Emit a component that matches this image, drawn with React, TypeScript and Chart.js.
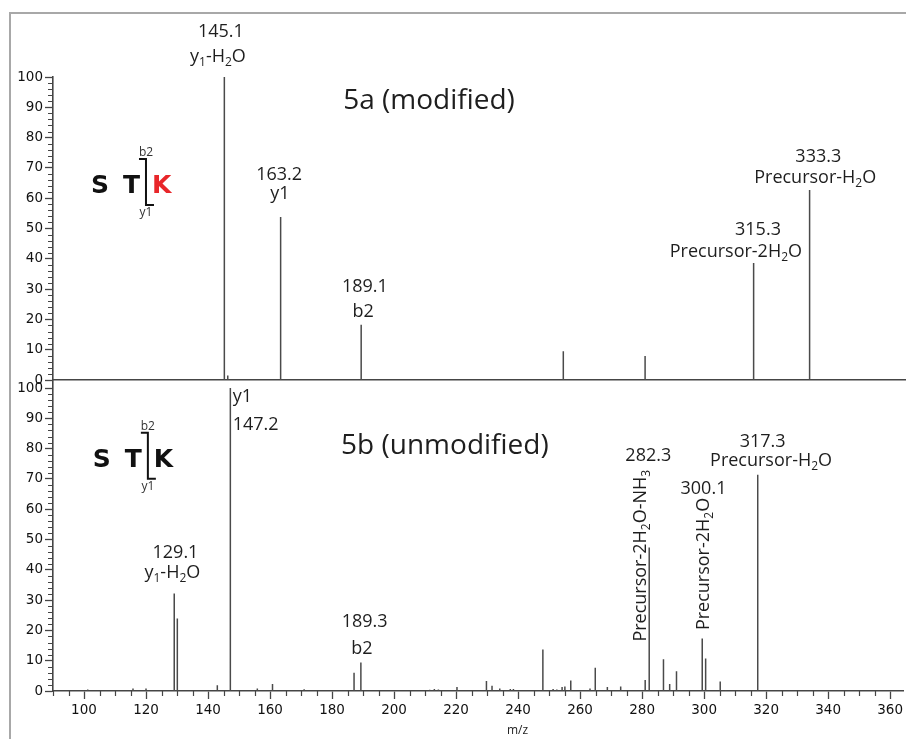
import React, { useEffect, useRef } from "react";
import { Chart, registerables } from "chart.js";
Chart.register(...registerables);

const W = 906;
const H = 739;

// axis ranges and tick labels
const X_MIN = 90;
const X_MAX = 364.3;
const X_TICKS = [100, 120, 140, 160, 180, 200, 220, 240, 260, 280, 300, 320, 340, 360];
const X_MINOR_STEP = 5;
const Y_TICKS = [0, 10, 20, 30, 40, 50, 60, 70, 80, 90, 100];
const Y_MINOR_STEP = 2;

// 5a (modified) spectrum
const TOP_MZ = [145.1, 146.2, 163.2, 189.1, 254.1, 280.4, 315.3, 333.3];
const TOP_INT = [100, 1.5, 53.8, 18.2, 9.5, 7.9, 38.6, 62.7];

// 5b (unmodified) spectrum
const BOT_MZ = [101.2, 115.8, 120.0, 129.1, 130.1, 143.0, 147.2, 155.9, 160.8, 171.0, 187.1, 189.3, 211.5, 213.0, 214.3, 220.3, 229.8, 231.6, 234.1, 237.5, 238.5, 248.0, 251.3, 252.5, 254.2, 255.1, 257.0, 263.2, 264.9, 268.8, 273.1, 281.0, 282.3, 286.9, 288.9, 291.1, 299.4, 300.5, 305.2, 307.0, 317.3];
const BOT_INT = [0.5, 0.8, 0.8, 32.2, 23.9, 1.9, 100, 0.8, 2.3, 0.6, 6.0, 9.4, 0.4, 0.7, 0.5, 1.3, 3.3, 1.7, 0.8, 0.7, 0.7, 13.7, 0.7, 0.5, 1.3, 1.5, 3.5, 0.8, 7.7, 1.3, 1.5, 3.6, 47.4, 10.5, 2.3, 6.5, 17.3, 10.7, 3.1, 0.3, 71.4];

type Label = { x: number; y: number; text: string; align?: "center" | "left"; rotate?: boolean };

// peak annotations (x in m/z, y in intensity units; "_c" = subscript c)
const TOP_LABELS: Label[] = [
  { x: 144.0, y: 113.1, text: "145.1" },
  { x: 143.05, y: 105.0, text: "y_1-H_2O" },
  { x: 162.7, y: 66.0, text: "163.2" },
  { x: 163.0, y: 59.9, text: "y1" },
  { x: 190.3, y: 29.1, text: "189.1" },
  { x: 189.7, y: 20.9, text: "b2" },
  { x: 316.7, y: 47.9, text: "315.3" },
  { x: 309.6, y: 40.6, text: "Precursor-2H_2O" },
  { x: 336.1, y: 72.0, text: "333.3" },
  { x: 335.1, y: 65.0, text: "Precursor-H_2O" },
];
const BOT_LABELS: Label[] = [
  { x: 147.97, y: 95.4, text: "y1", align: "left" },
  { x: 147.97, y: 86.2, text: "147.2", align: "left" },
  { x: 129.5, y: 43.8, text: "129.1" },
  { x: 128.5, y: 37.3, text: "y_1-H_2O" },
  { x: 190.5, y: 21.2, text: "189.3" },
  { x: 189.6, y: 12.2, text: "b2" },
  { x: 282.0, y: 76.0, text: "282.3" },
  { x: 281.3, y: 16.3, text: "Precursor-2H_2O-NH_3", rotate: true },
  { x: 299.8, y: 65.0, text: "300.1" },
  { x: 301.6, y: 20.1, text: "Precursor-2H_2O", rotate: true },
  { x: 318.9, y: 80.7, text: "317.3" },
  { x: 321.6, y: 74.3, text: "Precursor-H_2O" },
];

const TOP_TITLE = { x: 210.9, y: 89.3, text: "5a (modified)" };
const BOT_TITLE = { x: 216.4, y: 78.2, text: "5b (unmodified)" };
const TOP_STK = { x: 119.9, y: 64.7, kColor: "#e8262a" };
const BOT_STK = { x: 120.6, y: 77.0, kColor: "#111111" };
const X_TITLE = { x: 239.8, y: -13.2, text: "m/z" };

const AX = "#454545";
const PEAK = "#4a4a4a";
const TXT = "#1e1e1e";
const LABEL_FONT = '"Open Sans"';
const LABEL_SIZE = 18;

function stems(mz: number[], inten: number[]) {
  const pts: any[] = [];
  mz.forEach((m, i) => {
    pts.push({ x: m, y: 0 }, { x: m, y: inten[i] }, { x: m, y: null });
  });
  return pts;
}

function parseRich(s: string) {
  const parts: { t: string; sub: boolean }[] = [];
  for (let i = 0; i < s.length; i++) {
    if (s[i] === "_" && i + 1 < s.length) {
      parts.push({ t: s[i + 1], sub: true });
      i++;
    } else {
      const last = parts[parts.length - 1];
      if (last && !last.sub) last.t += s[i];
      else parts.push({ t: s[i], sub: false });
    }
  }
  return parts;
}

function drawRich(ctx: CanvasRenderingContext2D, s: string, x: number, y: number, size: number, align: string) {
  const parts = parseRich(s);
  const fMain = `${size}px ${LABEL_FONT}`;
  const fSub = `${Math.round(size * 0.68)}px ${LABEL_FONT}`;
  const widths = parts.map((p) => {
    ctx.font = p.sub ? fSub : fMain;
    return ctx.measureText(p.t).width;
  });
  const total = widths.reduce((a, b) => a + b, 0);
  let cx = align === "center" ? x - total / 2 : x;
  ctx.textAlign = "left";
  ctx.textBaseline = "alphabetic";
  parts.forEach((p, i) => {
    ctx.font = p.sub ? fSub : fMain;
    ctx.fillText(p.t, cx, p.sub ? y + size * 0.22 : y);
    cx += widths[i];
  });
}

function drawLabels(chart: any, labels: Label[]) {
  const { ctx } = chart;
  const xs = chart.scales.x;
  const ys = chart.scales.y;
  ctx.save();
  ctx.fillStyle = TXT;
  labels.forEach((l) => {
    const px = xs.getPixelForValue(l.x);
    const py = ys.getPixelForValue(l.y);
    if (l.rotate) {
      ctx.save();
      ctx.translate(px, py);
      ctx.rotate(-Math.PI / 2);
      drawRich(ctx, l.text, 0, 0, LABEL_SIZE, "left");
      ctx.restore();
    } else {
      drawRich(ctx, l.text, px, py, LABEL_SIZE, l.align || "center");
    }
  });
  ctx.restore();
}

function drawTitle(chart: any, t: { x: number; y: number; text: string }) {
  const { ctx } = chart;
  ctx.save();
  ctx.fillStyle = TXT;
  ctx.font = `28px ${LABEL_FONT}`;
  ctx.textAlign = "center";
  ctx.textBaseline = "alphabetic";
  ctx.fillText(t.text, chart.scales.x.getPixelForValue(t.x), chart.scales.y.getPixelForValue(t.y));
  ctx.restore();
}

function drawSTK(chart: any, s: { x: number; y: number; kColor: string }) {
  const { ctx } = chart;
  const bx = chart.scales.x.getPixelForValue(s.x);
  const cy = chart.scales.y.getPixelForValue(s.y);
  ctx.save();
  ctx.font = 'bold 25px "DejaVu Sans"';
  ctx.textAlign = "left";
  ctx.textBaseline = "alphabetic";
  ctx.fillStyle = "#111";
  ctx.fillText("S", bx - 55, cy + 9);
  ctx.fillText("T", bx - 23, cy + 9);
  ctx.fillStyle = s.kColor;
  ctx.fillText("K", bx + 6, cy + 9);
  ctx.strokeStyle = "#111";
  ctx.lineWidth = 2;
  ctx.beginPath();
  ctx.moveTo(bx - 7, cy - 25);
  ctx.lineTo(bx, cy - 25);
  ctx.lineTo(bx, cy + 21);
  ctx.lineTo(bx + 8, cy + 21);
  ctx.stroke();
  ctx.fillStyle = "#333";
  ctx.font = `12px ${LABEL_FONT}`;
  ctx.textAlign = "center";
  ctx.fillText("b2", bx, cy - 28);
  ctx.fillText("y1", bx, cy + 32);
  ctx.restore();
}

function drawMinorY(chart: any) {
  const { ctx, chartArea } = chart;
  const ys = chart.scales.y;
  ctx.save();
  ctx.strokeStyle = AX;
  ctx.lineWidth = 1;
  ctx.beginPath();
  for (let v = 0; v <= 100; v += Y_MINOR_STEP) {
    if (v % 10 === 0) continue;
    const py = Math.round(ys.getPixelForValue(v)) + 0.5;
    ctx.moveTo(chartArea.left - 5, py);
    ctx.lineTo(chartArea.left, py);
  }
  ctx.stroke();
  ctx.restore();
}

function drawMinorX(chart: any) {
  const { ctx, chartArea } = chart;
  const xs = chart.scales.x;
  ctx.save();
  ctx.strokeStyle = AX;
  ctx.lineWidth = 1.2;
  ctx.beginPath();
  for (let v = X_MIN; v <= X_MAX; v += X_MINOR_STEP) {
    if (v % 20 === 0) continue;
    const px = Math.round(xs.getPixelForValue(v)) + 0.5;
    ctx.moveTo(px, chartArea.bottom);
    ctx.lineTo(px, chartArea.bottom + 5);
  }
  ctx.stroke();
  ctx.restore();
}

function yScale(max: number) {
  return {
    type: "linear",
    min: 0,
    max,
    afterBuildTicks: (s: any) => {
      s.ticks = Y_TICKS.map((v) => ({ value: v }));
    },
    afterFit: (s: any) => {
      s.width = 53;
    },
    ticks: { color: "#111", padding: 2, font: { family: "DejaVu Sans", size: 13.5 } },
    grid: { drawOnChartArea: false, drawTicks: true, tickLength: 8, tickColor: AX, tickWidth: 1.3 },
    border: { display: true, color: AX, width: 1.6 },
  };
}

function dataset(mz: number[], inten: number[]) {
  return {
    data: stems(mz, inten),
    borderColor: PEAK,
    borderWidth: 1.5,
    pointRadius: 0,
    spanGaps: false,
    tension: 0,
    fill: false,
  };
}

function topConfig(): any {
  return {
    type: "line",
    data: { datasets: [dataset(TOP_MZ, TOP_INT)] },
    options: {
      animation: false,
      responsive: false,
      devicePixelRatio: 1,
      events: [],
      layout: { padding: { top: 77, bottom: H - 380, left: 0, right: 0 } },
      plugins: { legend: { display: false }, tooltip: { enabled: false } },
      scales: {
        x: {
          type: "linear",
          min: X_MIN,
          max: X_MAX,
          ticks: { display: false },
          grid: { drawOnChartArea: false, drawTicks: false },
          border: { display: true, color: AX, width: 1.6 },
          afterFit: (s: any) => {
            s.height = 0;
          },
        },
        y: yScale(100),
      },
    },
    plugins: [
      {
        id: "decoTop",
        afterDraw: (chart: any) => {
          const { ctx } = chart;
          ctx.save();
          ctx.strokeStyle = "#a8a8a8";
          ctx.lineWidth = 2;
          ctx.beginPath();
          ctx.moveTo(10, H);
          ctx.lineTo(10, 13);
          ctx.lineTo(W, 13);
          ctx.stroke();
          ctx.restore();
          drawMinorY(chart);
          drawLabels(chart, TOP_LABELS);
          drawTitle(chart, TOP_TITLE);
          drawSTK(chart, TOP_STK);
        },
      },
    ],
  };
}

function botConfig(): any {
  return {
    type: "line",
    data: { datasets: [dataset(BOT_MZ, BOT_INT)] },
    options: {
      animation: false,
      responsive: false,
      devicePixelRatio: 1,
      events: [],
      layout: { padding: { top: 382, bottom: H - 691 - 30, left: 0, right: 0 } },
      plugins: { legend: { display: false }, tooltip: { enabled: false } },
      scales: {
        x: {
          type: "linear",
          min: X_MIN,
          max: X_MAX,
          afterBuildTicks: (s: any) => {
            s.ticks = X_TICKS.map((v) => ({ value: v }));
          },
          afterFit: (s: any) => {
            s.height = 30;
          },
          ticks: { color: "#111", padding: 3, maxRotation: 0, autoSkip: false, font: { family: "DejaVu Sans", size: 13.5 } },
          grid: { drawOnChartArea: false, drawTicks: true, tickLength: 8, tickColor: AX, tickWidth: 1.3 },
          border: { display: true, color: AX, width: 1.6 },
        },
        y: yScale(102),
      },
    },
    plugins: [
      {
        id: "decoBot",
        afterDraw: (chart: any) => {
          drawMinorY(chart);
          drawMinorX(chart);
          drawLabels(chart, BOT_LABELS);
          drawTitle(chart, BOT_TITLE);
          drawSTK(chart, BOT_STK);
          const { ctx } = chart;
          ctx.save();
          ctx.fillStyle = TXT;
          ctx.font = `12px ${LABEL_FONT}`;
          ctx.textAlign = "center";
          ctx.textBaseline = "middle";
          ctx.fillText(X_TITLE.text, chart.scales.x.getPixelForValue(X_TITLE.x), chart.scales.y.getPixelForValue(X_TITLE.y));
          ctx.restore();
        },
      },
    ],
  };
}

export default function App() {
  const topRef = useRef<HTMLCanvasElement>(null);
  const botRef = useRef<HTMLCanvasElement>(null);
  useEffect(() => {
    const c2 = new Chart(botRef.current as HTMLCanvasElement, botConfig());
    const c1 = new Chart(topRef.current as HTMLCanvasElement, topConfig());
    return () => {
      c1.destroy();
      c2.destroy();
    };
  }, []);
  const st: React.CSSProperties = { position: "absolute", left: 0, top: 0 };
  return (
    <div style={{ position: "fixed", left: 0, top: 0, width: W, height: H, background: "#fff" }}>
      <canvas ref={botRef} width={W} height={H} style={st} />
      <canvas ref={topRef} width={W} height={H} style={st} />
    </div>
  );
}
